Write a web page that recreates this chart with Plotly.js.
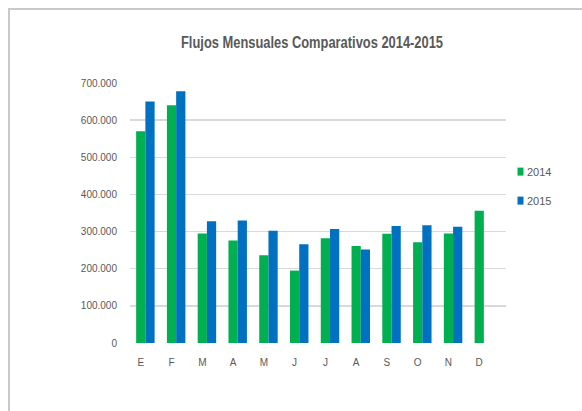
<!DOCTYPE html>
<html>
<head>
<meta charset="utf-8">
<script src="https://cdn.plot.ly/plotly-3.0.1.min.js"></script>
<style>
  html, body { margin: 0; padding: 0; background: #fff; }
  #wrap { position: relative; width: 582px; height: 411px; overflow: hidden; }
  #chart { width: 582px; height: 411px; }
  #frame { position: absolute; left: 8px; top: 8px; width: 600px; height: 420px;
           border-left: 2px solid #c9c9c9; border-top: 2px solid #c9c9c9; pointer-events: none; }
</style>
</head>
<body>
<div id="wrap">
  <div id="chart"></div>
  <div id="frame"></div>
</div>
<script>
const months = ["E", "F", "M", "A", "M", "J", "J", "A", "S", "O", "N", "D"];
const values2014 = [570000, 640000, 295000, 276000, 236000, 195000, 282000, 261000, 294000, 271000, 295000, 356000];
const values2015 = [650000, 678000, 328000, 330000, 302000, 266000, 307000, 252000, 315000, 317000, 313000, null];
const seriesNames = ["2014", "2015"];
const yTicks = [0, 100000, 200000, 300000, 400000, 500000, 600000, 700000];

const idx = months.map((m, i) => i);

const traces = [
  { type: "bar", name: seriesNames[0], x: idx, y: values2014, legendgroup: "a",
    marker: { color: "#00B050" }, hoverinfo: "y" },
  { type: "bar", name: seriesNames[1], x: idx, y: values2015, legendgroup: "b",
    marker: { color: "#0070C0" }, hoverinfo: "y" }
];

const axisFont = { family: "Liberation Sans, Arial, sans-serif", size: 10, color: "#595959" };

const layout = {
  width: 582, height: 411,
  margin: { l: 130, r: 76, t: 83, b: 68 },
  paper_bgcolor: "#ffffff", plot_bgcolor: "#ffffff",
  separators: ",.",
  barmode: "group", bargap: 0.4, bargroupgap: 0,
  title: { text: "<b>Flujos Mensuales Comparativos 2014-2015</b>",
           font: { family: "Liberation Sans, Arial, sans-serif", size: 16, color: "#595959" },
           x: 312 / 582, xanchor: "center", y: 1 - 42 / 411, yanchor: "middle" },
  xaxis: { range: [-0.5, 11.72], tickmode: "array",
           tickvals: idx.map(i => i - 0.15), ticktext: months,
           showgrid: false, zeroline: false, showline: false, ticks: "",
           tickfont: axisFont, ticklabelstandoff: 12, fixedrange: true },
  yaxis: { range: [0, 700000], tickmode: "array", tickvals: yTicks,
           tickformat: ",d", showgrid: true, gridcolor: "#d9d9d9", gridwidth: 1.5,
           zeroline: false, showline: false, ticks: "",
           tickfont: axisFont, ticklabelstandoff: 12, fixedrange: true },
  showlegend: true,
  legend: { x: (487 - 130) / 376, xanchor: "left", y: 0.715, yanchor: "top",
            traceorder: "grouped", tracegroupgap: 10,
            font: { family: "Liberation Sans, Arial, sans-serif", size: 11, color: "#595959" },
            itemwidth: 30, bgcolor: "rgba(0,0,0,0)" }
};

Plotly.newPlot("chart", traces, layout, { displayModeBar: false, staticPlot: true }).then(gd => {
  // condensed title like the original narrow font
  const t = gd.querySelector(".gtitle");
  if (t) { t.setAttribute("textLength", "262"); t.setAttribute("lengthAdjust", "spacingAndGlyphs"); }
  // smaller legend swatches placed next to the text
  gd.querySelectorAll(".legendpoints path").forEach(p => {
    p.setAttribute("d", "M16.5,4H10.5V-4H16.5Z");
  });
});
</script>
</body>
</html>
